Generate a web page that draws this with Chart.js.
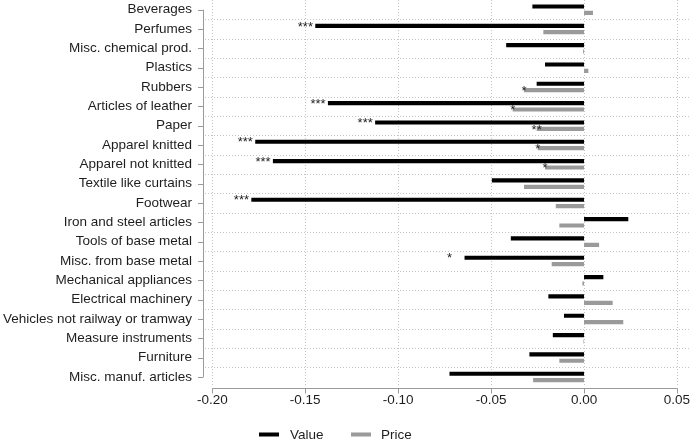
<!DOCTYPE html>
<html>
<head>
<meta charset="utf-8">
<script src="https://cdn.jsdelivr.net/npm/chart.js@4"></script>
<style>
  html, body { margin: 0; padding: 0; background: #fff; }
  #wrap { width: 690px; height: 445px; position: relative; }
</style>
</head>
<body>
<div id="wrap"><canvas id="c" width="690" height="445"></canvas></div>
<script>
const categories = [
  'Beverages', 'Perfumes', 'Misc. chemical prod.', 'Plastics', 'Rubbers',
  'Articles of leather', 'Paper', 'Apparel knitted', 'Apparel not knitted',
  'Textile like curtains', 'Footwear', 'Iron and steel articles',
  'Tools of base metal', 'Misc. from base metal', 'Mechanical appliances',
  'Electrical machinery', 'Vehicles not railway or tramway',
  'Measure instruments', 'Furniture', 'Misc. manuf. articles'
];
const valueData = [-0.0278, -0.1446, -0.0419, -0.0210, -0.0255, -0.1378, -0.1124, -0.1769, -0.1674, -0.0496,
                   -0.1790, 0.0238, -0.0394, -0.0643, 0.0104, -0.0192, -0.0108, -0.0168, -0.0294, -0.0724];
const priceData = [0.0048, -0.0219, -0.0005, 0.0023, -0.0323, -0.0384, -0.0255, -0.0249, -0.0210, -0.0323,
                   -0.0152, -0.0133, 0.0081, -0.0174, -0.0009, 0.0154, 0.0211, -0.0003, -0.0133, -0.0274];
const valueStars = ['', '***', '', '', '', '***', '***', '***', '***', '', '***', '', '', '*', '', '', '', '', '', ''];
const priceStars = ['', '', '', '', '*', '*', '**', '*', '*', '', '', '', '', '', '', '', '', '', '', ''];
const xTicks = [-0.20, -0.15, -0.10, -0.05, 0.00, 0.05];
const seriesNames = ['Value', 'Price'];
const seriesColors = ['#000000', '#9a9a9a'];

const FONT = "'Liberation Sans', Arial, Helvetica, sans-serif";
const TEXT = '#1e1e1e';
const AXIS = '#9a9a9a';
const GRID = '#c4c4c4';

Chart.defaults.font.family = FONT;
Chart.defaults.font.size = 13.5;
Chart.defaults.color = TEXT;

const decor = {
  id: 'decor',
  beforeDatasetsDraw(chart) {
    const ctx = chart.ctx;
    const ca = chart.chartArea;
    const xs = chart.scales.x, ys = chart.scales.y;
    const axisY = ca.bottom + 1.5;
    ctx.save();
    ctx.strokeStyle = GRID;
    ctx.lineWidth = 1;
    ctx.setLineDash([1, 2]);
    // vertical dotted grid at x ticks
    xTicks.forEach(v => {
      const px = Math.round(xs.getPixelForValue(v)) + 0.5;
      ctx.beginPath();
      ctx.moveTo(px, 0);
      ctx.lineTo(px, axisY - 1);
      ctx.stroke();
    });
    // horizontal dotted grid between categories
    for (let i = 1; i < categories.length; i++) {
      const py = Math.round((ys.getPixelForValue(i - 1) + ys.getPixelForValue(i)) / 2) + 0.5;
      ctx.beginPath();
      ctx.moveTo(ca.left + 2, py);
      ctx.lineTo(ca.right, py);
      ctx.stroke();
    }
    ctx.setLineDash([]);
    ctx.strokeStyle = AXIS;
    // y axis line from first to last tick
    const yFirst = ys.getPixelForValue(0), yLast = ys.getPixelForValue(categories.length - 1);
    const axX = ca.left + 0.5;
    ctx.beginPath();
    ctx.moveTo(axX, yFirst);
    ctx.lineTo(axX, yLast);
    ctx.stroke();
    categories.forEach((c, i) => {
      const py = Math.round(ys.getPixelForValue(i)) + 0.5;
      ctx.beginPath();
      ctx.moveTo(axX - 5.5, py);
      ctx.lineTo(axX, py);
      ctx.stroke();
    });
    // x axis line from first to last tick
    const ay = Math.round(axisY) + 0.5;
    const x0 = xs.getPixelForValue(xTicks[0]), x1 = xs.getPixelForValue(xTicks[xTicks.length - 1]);
    ctx.beginPath();
    ctx.moveTo(x0, ay);
    ctx.lineTo(x1 + 0.5, ay);
    ctx.stroke();
    xTicks.forEach(v => {
      const px = Math.round(xs.getPixelForValue(v)) + 0.5;
      ctx.beginPath();
      ctx.moveTo(px, ay);
      ctx.lineTo(px, ay + 5);
      ctx.stroke();
    });
    ctx.restore();
  },
  afterDatasetsDraw(chart) {
    const ctx = chart.ctx;
    ctx.save();
    ctx.fillStyle = TEXT;
    ctx.font = '13px ' + FONT;
    ctx.textBaseline = 'alphabetic';
    const m0 = chart.getDatasetMeta(0), m1 = chart.getDatasetMeta(1);
    valueStars.forEach((s, i) => {
      if (!s) return;
      const el = m0.data[i];
      ctx.textAlign = 'left';
      ctx.fillText(s, el.x - 17.5, el.y + 4.7);
    });
    priceStars.forEach((s, i) => {
      if (!s) return;
      const el = m1.data[i];
      ctx.textAlign = 'center';
      ctx.fillText(s, el.x, el.y + 4.7);
    });
    ctx.restore();
  },
  afterDraw(chart) {
    const ctx = chart.ctx;
    ctx.save();
    ctx.font = '13.5px ' + FONT;
    ctx.textBaseline = 'middle';
    ctx.textAlign = 'left';
    const items = [{sx: 259, tx: 290}, {sx: 351, tx: 381}];
    items.forEach((it, k) => {
      ctx.fillStyle = seriesColors[k];
      ctx.fillRect(it.sx, 432.5, 20, 4);
      ctx.fillStyle = TEXT;
      ctx.fillText(seriesNames[k], it.tx, 435);
    });
    ctx.restore();
  }
};

new Chart(document.getElementById('c'), {
  type: 'bar',
  data: {
    labels: categories,
    datasets: [
      { label: seriesNames[0], data: valueData, backgroundColor: seriesColors[0], borderWidth: 0,
        categoryPercentage: 0.66, barPercentage: 0.65 },
      { label: seriesNames[1], data: priceData, backgroundColor: seriesColors[1], borderWidth: 0,
        categoryPercentage: 0.66, barPercentage: 0.65 }
    ]
  },
  options: {
    indexAxis: 'y',
    responsive: false,
    animation: false,
    devicePixelRatio: 1,
    layout: { padding: { top: 0, left: 0, right: 0, bottom: 0 } },
    plugins: { legend: { display: false }, tooltip: { enabled: false } },
    scales: {
      x: {
        type: 'linear',
        min: -0.205,
        max: 0.057,
        afterBuildTicks(scale) { scale.ticks = xTicks.map(v => ({ value: v })); },
        afterFit(scale) { scale.height = 58.4; scale.paddingLeft = 0; scale.paddingRight = 0; },
        grid: { display: false, drawTicks: false },
        border: { display: false },
        ticks: {
          padding: 6,
          maxRotation: 0,
          autoSkip: false,
          color: TEXT,
          font: { size: 13.5 },
          callback: (v) => Number(v).toFixed(2)
        }
      },
      y: {
        type: 'category',
        offset: true,
        afterFit(scale) { scale.width = 203; scale.paddingTop = 0; scale.paddingBottom = 0; },
        grid: { display: false, drawTicks: false },
        border: { display: false },
        ticks: { padding: 11, autoSkip: false, color: TEXT, font: { size: 13.5 } }
      }
    }
  },
  plugins: [decor]
});
</script>
</body>
</html>
